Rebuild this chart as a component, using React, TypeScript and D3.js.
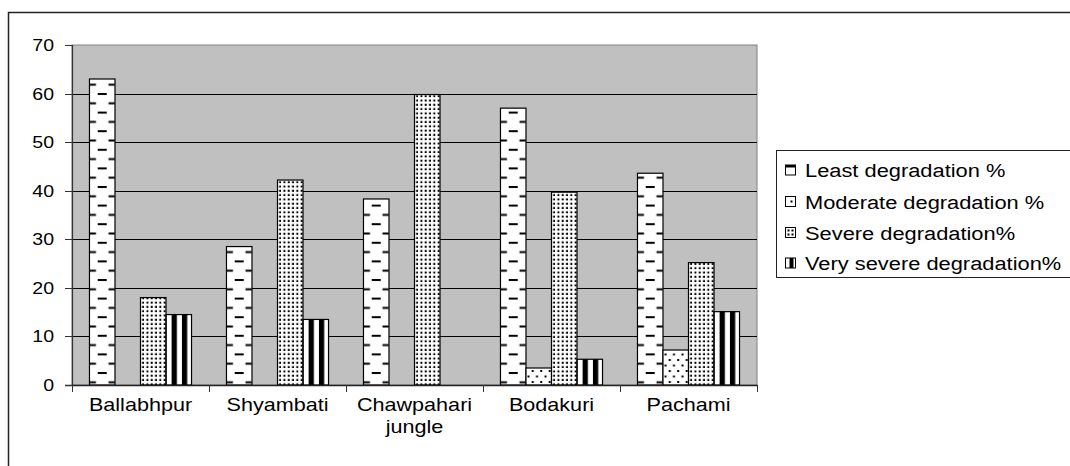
import React from "react";
import * as d3 from "d3";

const categories = ["Ballabhpur", "Shyambati", "Chawpahari\njungle", "Bodakuri", "Pachami"];
const seriesNames = [
  "Least degradation %",
  "Moderate degradation %",
  "Severe degradation%",
  "Very severe degradation%",
];
const least = [63, 28.5, 38.3, 57, 43.6];
const moderate = [0, 0, 0, 3.5, 7.2];
const severe = [18, 42.2, 59.8, 39.7, 25.2];
const verySevere = [14.5, 13.5, 0, 5.3, 15.1];
const yTicks = [0, 10, 20, 30, 40, 50, 60, 70];

const seriesValues = [least, moderate, severe, verySevere];
const FONT = "'Liberation Sans', Arial, sans-serif";

const W = 1070;
const H = 466;
const plot = { left: 72, right: 757, top: 45, bottom: 385 };

function StretchText({ x, y, anchor, size, sx, children }: any) {
  return (
    <g transform={`translate(${x},${y}) scale(${sx},1)`}>
      <text x={0} y={0} textAnchor={anchor} fontSize={size} fontFamily={FONT} fill="#000">
        {children}
      </text>
    </g>
  );
}

function patternFor(si: number, id: string, bx: number, bw: number) {
  if (si === 0) {
    const pw = 19, ph = 18.6, dl = 9, el = 6.5;
    return (
      <pattern key={id} id={id} patternUnits="userSpaceOnUse" x={bx + bw / 2 - pw / 2} y={0} width={pw} height={ph}>
        <rect width={pw} height={ph} fill="#fff" />
        <rect x={pw / 2 - dl / 2} y={0} width={dl} height={2} fill="#000" />
        <rect x={0} y={ph / 2} width={el / 2} height={2} fill="#000" />
        <rect x={pw - el / 2} y={ph / 2} width={el / 2} height={2} fill="#000" />
      </pattern>
    );
  }
  if (si === 1) {
    const pw = 8.5, ph = 11;
    return (
      <pattern key={id} id={id} patternUnits="userSpaceOnUse" x={bx} y={0} width={pw} height={ph}>
        <rect width={pw} height={ph} fill="#fff" />
        <rect x={1.5} y={1.5} width={2} height={2} fill="#000" />
        <rect x={5.75} y={7} width={2} height={2} fill="#000" />
      </pattern>
    );
  }
  if (si === 2) {
    const pw = 4.3, ph = 4.3;
    return (
      <pattern key={id} id={id} patternUnits="userSpaceOnUse" x={bx + 1} y={0} width={pw} height={ph}>
        <rect width={pw} height={ph} fill="#fff" />
        <rect x={0.6} y={0.6} width={2} height={2} fill="#000" />
      </pattern>
    );
  }
  const pw = 10.3;
  return (
    <pattern key={id} id={id} patternUnits="userSpaceOnUse" x={bx + 5.6} y={0} width={pw} height={10}>
      <rect width={pw} height={10} fill="#fff" />
      <rect x={0} y={0} width={5.3} height={10} fill="#000" />
    </pattern>
  );
}

export default function App() {
  const x0 = d3.scaleBand<string>().domain(categories).range([plot.left, plot.right]).padding(0);
  const x1 = d3
    .scaleBand<string>()
    .domain(seriesNames)
    .range([0, x0.bandwidth()])
    .paddingInner(0)
    .paddingOuter(0.685);
  const y = d3.scaleLinear().domain([0, 70]).range([plot.bottom, plot.top]);

  const bars: any[] = [];
  categories.forEach((c, ci) => {
    seriesNames.forEach((s, si) => {
      const v = seriesValues[si][ci];
      const bx = (x0(c) as number) + (x1(s) as number);
      bars.push({ ci, si, v, bx, bw: x1.bandwidth(), id: `p-${ci}-${si}` });
    });
  });

  const legendX = 776;
  const legendRows = [170, 201.5, 232.5, 263];

  return (
    <svg width={W} height={H} style={{ position: "absolute", left: 0, top: 0, background: "#fff" }}>
      <defs>{bars.filter((b) => b.v > 0).map((b) => patternFor(b.si, b.id, b.bx, b.bw))}</defs>
      <rect x={0} y={0} width={W} height={H} fill="#fff" />
      <rect x={8.5} y={12.5} width={W + 20} height={H + 20} fill="none" stroke="#222" strokeWidth={1.5} />
      <rect x={plot.left} y={plot.top} width={plot.right - plot.left} height={plot.bottom - plot.top} fill="#c0c0c0" stroke="#808080" strokeWidth={1} />
      {yTicks
        .filter((t) => t > 0 && t < 70)
        .map((t) => (
          <line key={t} x1={plot.left} x2={plot.right} y1={Math.round(y(t)) + 0.5} y2={Math.round(y(t)) + 0.5} stroke="#000" strokeWidth={1} />
        ))}
      {bars
        .filter((b) => b.v > 0)
        .map((b) => (
          <rect
            key={b.id}
            x={b.bx}
            y={y(b.v)}
            width={b.bw}
            height={y(0) - y(b.v)}
            fill={`url(#${b.id})`}
            stroke="#000"
            strokeWidth={1.2}
          />
        ))}
      <line x1={plot.left + 0.5} x2={plot.left + 0.5} y1={plot.top} y2={plot.bottom} stroke="#333" strokeWidth={1.2} />
      <line x1={plot.left - 7} x2={plot.right + 1} y1={plot.bottom + 0.5} y2={plot.bottom + 0.5} stroke="#222" strokeWidth={1.3} />
      {yTicks.map((t) => (
        <g key={t}>
          <line x1={plot.left - 7} x2={plot.left} y1={Math.round(y(t)) + 0.5} y2={Math.round(y(t)) + 0.5} stroke="#333" strokeWidth={1} />
          <StretchText x={54} y={y(t) + 6} anchor="end" size={17} sx={1.15}>
            {t}
          </StretchText>
        </g>
      ))}
      {categories.map((c, i) => (
        <line
          key={"t" + i}
          x1={(x0(c) as number) + 0.5}
          x2={(x0(c) as number) + 0.5}
          y1={plot.bottom}
          y2={plot.bottom + 7}
          stroke="#333"
          strokeWidth={1}
        />
      ))}
      <line x1={plot.right + 0.5} x2={plot.right + 0.5} y1={plot.bottom} y2={plot.bottom + 7} stroke="#333" strokeWidth={1} />
      {categories.map((c) => {
        const cx = (x0(c) as number) + x0.bandwidth() / 2;
        return c.split("\n").map((line, li) => (
          <StretchText key={c + li} x={cx} y={411 + li * 22} anchor="middle" size={18} sx={1.2}>
            {line}
          </StretchText>
        ));
      })}
      <rect x={legendX + 0.5} y={150.5} width={320} height={127} fill="#fff" stroke="#222" strokeWidth={1} />
      {seriesNames.map((s, i) => {
        const cy = legendRows[i];
        const mx = 785.5;
        const my = cy - 5;
        return (
          <g key={s}>
            <rect x={mx} y={my} width={10} height={10} fill="#fff" stroke="#000" strokeWidth={1} />
            {i === 0 && <rect x={mx} y={my} width={10} height={2.5} fill="#000" />}
            {i === 1 && <rect x={mx + 5} y={my + 4} width={2} height={2} fill="#000" />}
            {i === 2 && (
              <g fill="#000">
                <rect x={mx + 2} y={my + 2} width={2} height={2} />
                <rect x={mx + 6} y={my + 2} width={2} height={2} />
                <rect x={mx + 2} y={my + 6} width={2} height={2} />
                <rect x={mx + 6} y={my + 6} width={2} height={2} />
              </g>
            )}
            {i === 3 && <rect x={mx + 4} y={my} width={4} height={10} fill="#000" />}
            <StretchText x={805} y={cy + 7} anchor="start" size={19} sx={1.15}>
              {s}
            </StretchText>
          </g>
        );
      })}
    </svg>
  );
}
